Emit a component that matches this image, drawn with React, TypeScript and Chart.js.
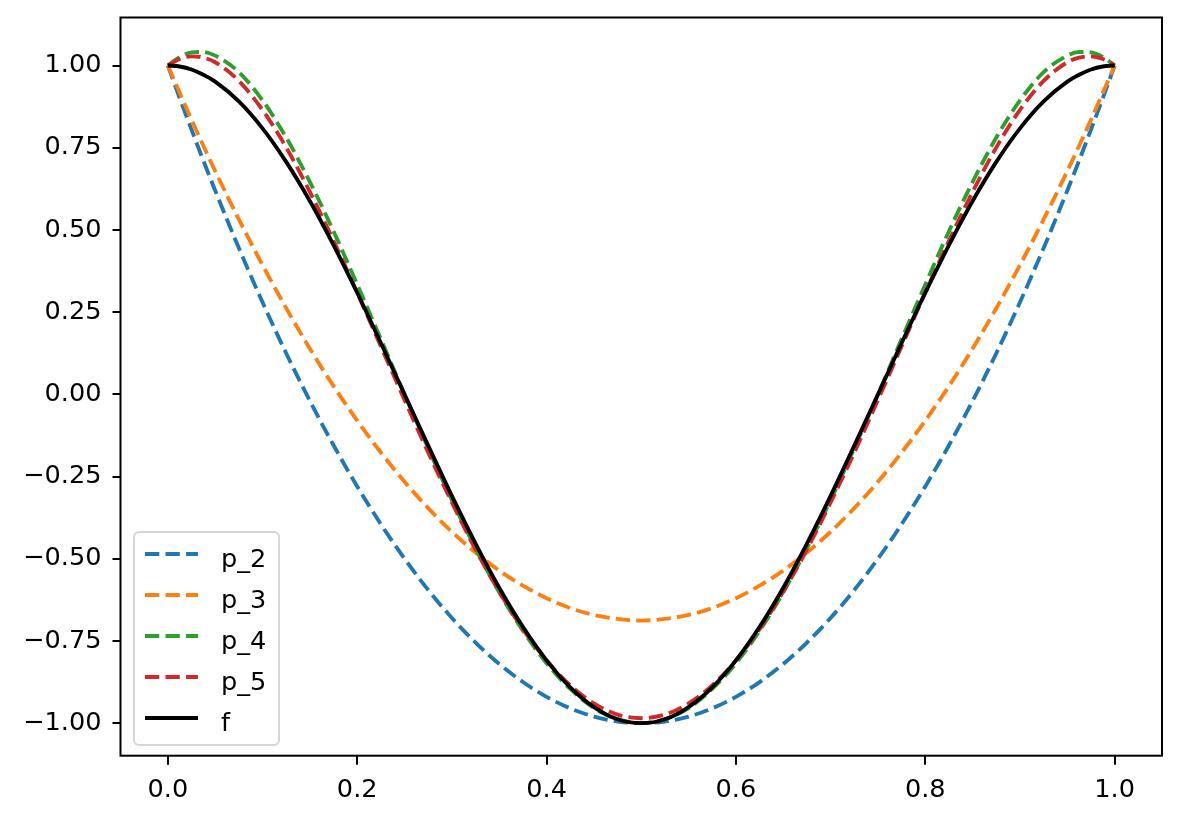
import { useEffect, useRef } from 'react';
import { Chart, registerables } from 'chart.js';

Chart.register(...registerables);

// sample positions along x (a little denser near both ends)
const xs = [
  0, 0.0125, 0.025, 0.0375, 0.05, 0.075, 0.1, 0.125, 0.15, 0.175, 0.2, 0.225, 0.25, 0.275, 0.3, 0.325,
  0.35, 0.375, 0.4, 0.425, 0.45, 0.475, 0.5, 0.525, 0.55, 0.575, 0.6, 0.625, 0.65, 0.675, 0.7, 0.725,
  0.75, 0.775, 0.8, 0.825, 0.85, 0.875, 0.9, 0.925, 0.95, 0.9625, 0.975, 0.9875, 1,
];

const p2 = [
  1, 0.901, 0.805, 0.711, 0.62, 0.445, 0.28, 0.125, -0.02, -0.155, -0.28, -0.395, -0.5, -0.595, -0.68,
  -0.755, -0.82, -0.875, -0.92, -0.955, -0.98, -0.995, -1, -0.995, -0.98, -0.955, -0.92, -0.875, -0.82,
  -0.755, -0.68, -0.595, -0.5, -0.395, -0.28, -0.155, -0.02, 0.125, 0.28, 0.445, 0.62, 0.711, 0.805,
  0.901, 1,
];

const p3 = [
  1, 0.917, 0.835, 0.756, 0.679, 0.532, 0.393, 0.262, 0.139, 0.025, -0.08, -0.177, -0.266, -0.346,
  -0.418, -0.481, -0.536, -0.582, -0.62, -0.65, -0.671, -0.683, -0.688, -0.683, -0.671, -0.65, -0.62,
  -0.582, -0.536, -0.481, -0.418, -0.346, -0.266, -0.177, -0.08, 0.025, 0.139, 0.262, 0.393, 0.532,
  0.679, 0.756, 0.835, 0.917, 1,
];

const p4 = [
  1, 1.026, 1.04, 1.041, 1.03, 0.98, 0.894, 0.781, 0.646, 0.496, 0.334, 0.168, 0, -0.164, -0.322,
  -0.468, -0.602, -0.719, -0.818, -0.896, -0.954, -0.988, -1, -0.988, -0.954, -0.896, -0.818, -0.719,
  -0.602, -0.468, -0.322, -0.164, 0, 0.168, 0.334, 0.496, 0.646, 0.781, 0.894, 0.98, 1.03, 1.041, 1.04,
  1.026, 1,
];

const p5 = [
  1, 1.02, 1.028, 1.024, 1.01, 0.953, 0.865, 0.751, 0.616, 0.467, 0.309, 0.146, -0.017, -0.177, -0.329,
  -0.472, -0.6, -0.714, -0.809, -0.885, -0.94, -0.974, -0.985, -0.974, -0.94, -0.885, -0.809, -0.714,
  -0.6, -0.472, -0.329, -0.177, -0.017, 0.146, 0.309, 0.467, 0.616, 0.751, 0.865, 0.953, 1.01, 1.024,
  1.028, 1.02, 1,
];

const f = [
  1, 0.997, 0.988, 0.972, 0.951, 0.891, 0.809, 0.707, 0.588, 0.454, 0.309, 0.156, 0, -0.156, -0.309,
  -0.454, -0.588, -0.707, -0.809, -0.891, -0.951, -0.988, -1, -0.988, -0.951, -0.891, -0.809, -0.707,
  -0.588, -0.454, -0.309, -0.156, 0, 0.156, 0.309, 0.454, 0.588, 0.707, 0.809, 0.891, 0.951, 0.972,
  0.988, 0.997, 1,
];

const xTicks = [0, 0.2, 0.4, 0.6, 0.8, 1.0];
const yTicks = [-1, -0.75, -0.5, -0.25, 0, 0.25, 0.5, 0.75, 1];

const FONT = 'DejaVu Sans';
const FONT_SIZE = 25.6;
const LW = 3.85;
const DASH = [14.3, 6.2];

// matplotlib-like box around the axes
const framePlugin = {
  id: 'frame',
  afterDatasetsDraw(chart: any) {
    const { ctx, chartArea: a } = chart;
    ctx.save();
    ctx.strokeStyle = '#000';
    ctx.lineWidth = 2;
    ctx.strokeRect(a.left, a.top, a.right - a.left, a.bottom - a.top);
    ctx.restore();
  },
};

// legend drawn inside the plot, lower left
const legendPlugin = {
  id: 'mplLegend',
  afterDraw(chart: any) {
    const { ctx, chartArea: a } = chart;
    const bw = 145;
    const bh = 213;
    const bx = a.left + 13.5;
    const by = a.bottom - 10.7 - bh;
    ctx.save();
    ctx.beginPath();
    ctx.roundRect(bx, by, bw, bh, 5);
    ctx.fillStyle = 'rgba(255,255,255,0.8)';
    ctx.fill();
    ctx.strokeStyle = 'rgba(204,204,204,0.8)';
    ctx.lineWidth = 2;
    ctx.stroke();
    chart.data.datasets.forEach((ds: any, i: number) => {
      const y = by + 22 + i * 41;
      ctx.beginPath();
      ctx.setLineDash(ds.borderDash || []);
      ctx.strokeStyle = ds.borderColor;
      ctx.lineWidth = LW;
      ctx.moveTo(bx + 11, y);
      ctx.lineTo(bx + 64, y);
      ctx.stroke();
      ctx.setLineDash([]);
      ctx.fillStyle = '#000';
      ctx.font = `${FONT_SIZE}px "${FONT}"`;
      ctx.textBaseline = 'alphabetic';
      ctx.fillText(ds.label, bx + 87, y + 12.5);
    });
    ctx.restore();
  },
};

const series = [
  { label: 'p_2', data: p2, color: '#1f77b4', dash: DASH },
  { label: 'p_3', data: p3, color: '#ff7f0e', dash: DASH },
  { label: 'p_4', data: p4, color: '#2ca02c', dash: DASH },
  { label: 'p_5', data: p5, color: '#d62728', dash: DASH },
  { label: 'f', data: f, color: '#000000', dash: [] as number[] },
];

export default function App() {
  const canvasRef = useRef<HTMLCanvasElement>(null);

  useEffect(() => {
    document.body.style.margin = '0';
    const tickFont = { family: FONT, size: FONT_SIZE };
    const chart = new Chart(canvasRef.current!, {
      type: 'line',
      data: {
        datasets: series.map((s, i) => ({
          label: s.label,
          data: xs.map((x, j) => ({ x, y: s.data[j] })),
          borderColor: s.color,
          borderWidth: LW,
          borderDash: s.dash,
          pointRadius: 0,
          cubicInterpolationMode: 'monotone' as const,
          fill: false,
          order: series.length - i,
        })),
      },
      options: {
        responsive: false,
        animation: false,
        layout: { padding: { top: 17.5, right: 19, left: 0, bottom: 0 } },
        plugins: { legend: { display: false }, tooltip: { enabled: false } },
        scales: {
          x: {
            type: 'linear',
            min: -0.05,
            max: 1.05,
            afterBuildTicks: (s: any) => {
              s.ticks = xTicks.map((v) => ({ value: v }));
            },
            afterFit: (s: any) => {
              s.height = 66.3;
              s.paddingLeft = 0;
              s.paddingRight = 0;
            },
            ticks: {
              color: '#000',
              font: tickFont,
              padding: 10,
              maxRotation: 0,
              autoSkip: false,
              callback: (v: any) => Number(v).toFixed(1),
            },
            grid: { drawOnChartArea: false, color: '#000', lineWidth: 2, tickLength: 9 },
            border: { display: false },
          },
          y: {
            type: 'linear',
            min: -1.099,
            max: 1.146,
            afterBuildTicks: (s: any) => {
              s.ticks = yTicks.map((v) => ({ value: v }));
            },
            afterFit: (s: any) => {
              s.width = 120.5;
              s.paddingTop = 0;
              s.paddingBottom = 0;
            },
            ticks: {
              color: '#000',
              font: tickFont,
              padding: 11,
              autoSkip: false,
              callback: (v: any) => (Number(v) < 0 ? '\u2212' : '') + Math.abs(Number(v)).toFixed(2),
            },
            grid: { drawOnChartArea: false, color: '#000', lineWidth: 2, tickLength: 8 },
            border: { display: false },
          },
        },
      },
      plugins: [framePlugin, legendPlugin],
    });
    return () => chart.destroy();
  }, []);

  return (
    <div style={{ width: 1181, height: 822 }}>
      <canvas ref={canvasRef} width={1181} height={822} style={{ display: 'block' }} />
    </div>
  );
}
